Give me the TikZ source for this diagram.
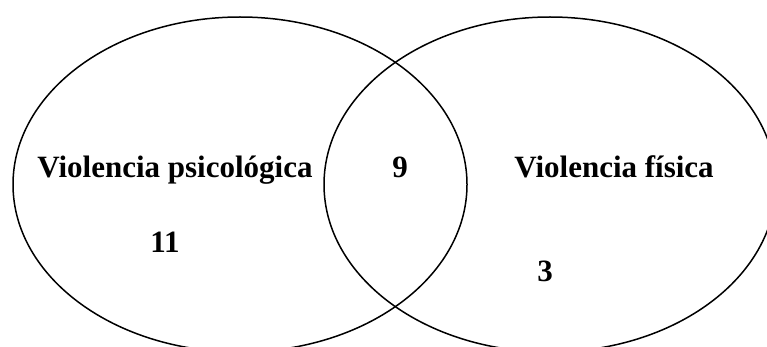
\documentclass[tikz,border=0pt]{standalone}
\usepackage{fontspec}
\setmainfont{Liberation Serif}
\begin{document}
\begin{tikzpicture}[x=1pt,y=-1pt,
  venn/.style={draw=black,line width=1.5pt},
  lbl/.style={font=\fontsize{31}{31}\selectfont\bfseries,anchor=base,inner sep=0pt}]
\useasboundingbox (0,0) rectangle (767,347);
\begin{scope}
\clip (0,0) rectangle (767,347);
\draw[venn] (240,184.5) ellipse [x radius=227, y radius=167.5];
\draw[venn] (550,184.5) ellipse [x radius=226, y radius=167.5];
\end{scope}
\node[lbl] (psi) at (175,178) {Violencia psicológica};
\node[lbl] (nine) at (400,178) {9};
\node[lbl] (fis) at (614,178) {Violencia física};
\node[lbl] (eleven) at (165,252) {11};
\node[lbl] (three) at (545,281) {3};
\end{tikzpicture}
\end{document}
